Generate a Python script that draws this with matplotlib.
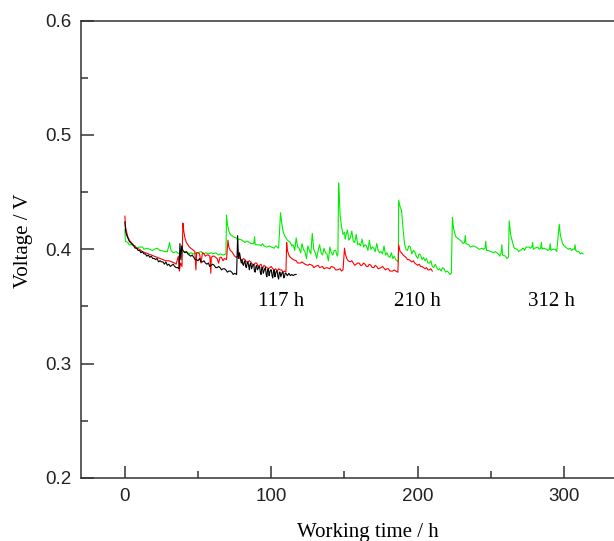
import matplotlib.pyplot as plt

# cell voltage during long-term operation, three runs, (time h, voltage V)
black_pts = [(0, 0.424), (0.4, 0.417), (1, 0.413), (2, 0.410), (3, 0.407), (4.5, 0.405),
             (6, 0.403), (7, 0.401), (8, 0.401), (9, 0.399), (10, 0.399), (11, 0.397),
             (12, 0.398), (13, 0.396), (14, 0.396), (15, 0.394), (16, 0.395), (17, 0.393),
             (18, 0.394), (19, 0.392), (20, 0.392), (21, 0.391), (22, 0.392), (23, 0.389),
             (24, 0.390), (25, 0.389), (26, 0.389), (27, 0.387), (28, 0.389), (29, 0.386),
             (30, 0.387), (31, 0.385), (32, 0.386), (33, 0.387), (34, 0.385), (35, 0.384),
             (36, 0.384), (37, 0.383), (37.6, 0.405), (38.2, 0.391), (38.8, 0.403),
             (39.6, 0.399), (41, 0.397), (42, 0.398), (43, 0.396), (44, 0.395), (45, 0.394),
             (46, 0.395), (47, 0.393), (48, 0.391), (49, 0.391), (50, 0.390), (51, 0.392),
             (52, 0.389), (53, 0.389), (54, 0.390), (55, 0.388), (56, 0.387), (57, 0.388),
             (58, 0.385), (59, 0.386), (60, 0.387), (61, 0.386), (62, 0.384), (63, 0.384),
             (64, 0.385), (65, 0.384), (66, 0.382), (67, 0.383), (68, 0.383), (69, 0.382),
             (70, 0.380), (71, 0.381), (72, 0.381), (73, 0.380), (74, 0.378), (75, 0.379),
             (76.3, 0.378), (77, 0.412), (77.6, 0.392), (78.3, 0.397), (79, 0.392),
             (79.5, 0.388), (80, 0.391), (80.5, 0.387), (81, 0.386), (81.5, 0.389),
             (82, 0.390), (82.5, 0.385), (83, 0.384), (83.5, 0.388), (84, 0.389),
             (84.5, 0.386), (85, 0.382), (85.5, 0.387), (86, 0.388), (86.5, 0.383),
             (87, 0.385), (87.5, 0.386), (88, 0.387), (88.5, 0.381), (89, 0.380),
             (89.5, 0.385), (90, 0.386), (90.5, 0.382), (91, 0.383), (91.5, 0.385),
             (92, 0.385), (92.5, 0.380), (93, 0.378), (93.5, 0.384), (94, 0.384),
             (94.5, 0.379), (95, 0.381), (95.5, 0.383), (96, 0.384), (96.5, 0.378),
             (97, 0.376), (97.5, 0.382), (98, 0.383), (98.5, 0.377), (99, 0.380),
             (99.5, 0.382), (100, 0.382), (100.5, 0.377), (101, 0.375), (101.5, 0.381),
             (102, 0.382), (102.5, 0.376), (103, 0.379), (103.5, 0.381), (104, 0.381),
             (104.5, 0.376), (105, 0.374), (105.5, 0.380), (106, 0.380), (106.5, 0.376),
             (107, 0.378), (107.5, 0.380), (108, 0.380), (108.5, 0.375), (109, 0.376),
             (109.5, 0.379), (110, 0.379), (111, 0.377), (112, 0.379), (113, 0.377),
             (114, 0.378), (115, 0.377), (116, 0.378), (117, 0.378)]

red_pts = [(0, 0.429), (0.4, 0.420), (1, 0.416), (2, 0.411), (3, 0.408), (5, 0.405),
           (8, 0.401), (10, 0.400), (12, 0.398), (14, 0.397), (16, 0.396), (18, 0.395),
           (20, 0.394), (22, 0.393), (24, 0.392), (26, 0.391), (28, 0.390), (30, 0.390),
           (32, 0.389), (34, 0.388), (35, 0.387), (36.5, 0.394), (37.2, 0.381), (38, 0.388),
           (39, 0.385), (39.6, 0.423), (40.2, 0.416), (41, 0.410), (42, 0.406), (43, 0.404),
           (44, 0.402), (45, 0.401), (46, 0.400), (47, 0.399), (47.8, 0.398), (48.5, 0.382),
           (49, 0.397), (50, 0.397), (51, 0.396), (52, 0.388), (53, 0.397), (54, 0.396),
           (55, 0.394), (56, 0.395), (57, 0.395), (58, 0.394), (58.7, 0.379), (59, 0.393),
           (60, 0.394), (61, 0.394), (62, 0.393), (63, 0.392), (64, 0.388), (65, 0.393),
           (66, 0.393), (67, 0.390), (68, 0.392), (69.4, 0.391), (70.4, 0.408), (71, 0.402),
           (72, 0.399), (73, 0.398), (74, 0.396), (75, 0.394), (76, 0.393), (77, 0.394),
           (78, 0.393), (79, 0.391), (80, 0.390), (81, 0.392), (82, 0.391), (83, 0.389),
           (84, 0.389), (85, 0.390), (86, 0.389), (87, 0.387), (88, 0.386), (89, 0.388),
           (90, 0.388), (91, 0.385), (92, 0.386), (93, 0.387), (94, 0.383), (95, 0.386),
           (96, 0.385), (97, 0.384), (98, 0.383), (99, 0.384), (100, 0.385), (101, 0.383),
           (102, 0.382), (103, 0.383), (104, 0.381), (105, 0.383), (106, 0.382),
           (107, 0.382), (108, 0.380), (109, 0.381), (110, 0.380), (110.5, 0.406),
           (111, 0.399), (112, 0.395), (113, 0.393), (114, 0.392), (115, 0.391),
           (117, 0.390), (118, 0.388), (120, 0.388), (121, 0.389), (123, 0.387),
           (125, 0.386), (126, 0.387), (128, 0.386), (129, 0.384), (130, 0.385),
           (132, 0.386), (133, 0.384), (135, 0.385), (136, 0.383), (138, 0.384),
           (140, 0.383), (141, 0.385), (143, 0.384), (144, 0.382), (145, 0.382),
           (147, 0.383), (148, 0.381), (149, 0.382), (150, 0.401), (150.6, 0.396),
           (151.5, 0.392), (152.5, 0.390), (154, 0.389), (155, 0.390), (156, 0.388),
           (157, 0.386), (158, 0.387), (159, 0.388), (160, 0.388), (161, 0.386),
           (162, 0.386), (163, 0.388), (164, 0.387), (165, 0.385), (166, 0.385),
           (167, 0.387), (168, 0.386), (169, 0.384), (170, 0.384), (171, 0.386),
           (172, 0.385), (173, 0.383), (175, 0.384), (176, 0.385), (178, 0.382),
           (179, 0.383), (180, 0.383), (181, 0.381), (183, 0.381), (184, 0.382),
           (185, 0.381), (186.5, 0.380), (187, 0.404), (188, 0.398), (189, 0.397),
           (190, 0.395), (191, 0.394), (192, 0.393), (193, 0.391), (194, 0.391),
           (195, 0.390), (196, 0.389), (197, 0.390), (198, 0.388), (199, 0.387),
           (200, 0.386), (201, 0.387), (202, 0.385), (203, 0.385), (204, 0.384),
           (205, 0.383), (206, 0.384), (207, 0.382), (208, 0.382), (209, 0.383),
           (210, 0.381)]

green_pts = [(0, 0.417), (0.3, 0.407), (2, 0.406), (3, 0.404), (5, 0.404), (7, 0.403),
             (8, 0.401), (10, 0.402), (12, 0.402), (13, 0.400), (15, 0.401), (17, 0.400),
             (19, 0.399), (20, 0.400), (22, 0.401), (24, 0.399), (25, 0.399), (27, 0.398),
             (29, 0.398), (30.5, 0.406), (31.5, 0.399), (33, 0.397), (35, 0.398),
             (37, 0.396), (39, 0.397), (40, 0.398), (42, 0.398), (44, 0.396), (45, 0.397),
             (47, 0.396), (49, 0.397), (50, 0.397), (52, 0.398), (54, 0.396), (55, 0.397),
             (57, 0.396), (59, 0.397), (60, 0.396), (62, 0.397), (64, 0.395), (65, 0.396),
             (67, 0.395), (69, 0.396), (69.4, 0.430), (70, 0.422), (71, 0.416), (72, 0.413),
             (73, 0.412), (74, 0.411), (76, 0.410), (77, 0.408), (78, 0.409), (80, 0.408),
             (82, 0.406), (83, 0.407), (84, 0.407), (85, 0.406), (86, 0.405), (88, 0.405),
             (88.6, 0.411), (89, 0.404), (90, 0.404), (92, 0.404), (93, 0.403), (94, 0.405),
             (95, 0.403), (97, 0.402), (99, 0.403), (100, 0.402), (102, 0.401),
             (103, 0.403), (105, 0.401), (106.3, 0.432), (107, 0.424), (108, 0.416),
             (109, 0.412), (110, 0.410), (111, 0.408), (112, 0.407), (113, 0.406),
             (114, 0.403), (115, 0.404), (116, 0.399), (117, 0.410), (118, 0.402),
             (119, 0.401), (120, 0.397), (121, 0.405), (122, 0.400), (123, 0.398),
             (124, 0.392), (125, 0.403), (126, 0.399), (127, 0.396), (128, 0.414),
             (129, 0.400), (130, 0.397), (131, 0.392), (132, 0.399), (133, 0.404),
             (134, 0.397), (135, 0.395), (136, 0.401), (137, 0.397), (138, 0.396),
             (139, 0.390), (140, 0.402), (141, 0.397), (142, 0.395), (143, 0.399),
             (144, 0.399), (145, 0.394), (145.5, 0.396), (146, 0.458), (146.5, 0.445),
             (147, 0.430), (148, 0.420), (149, 0.413), (150, 0.415), (150.5, 0.409),
             (151, 0.412), (152, 0.417), (153, 0.408), (154, 0.410), (155, 0.416),
             (156, 0.407), (157, 0.406), (158, 0.413), (159, 0.404), (160, 0.405),
             (161, 0.403), (162, 0.409), (163, 0.402), (164, 0.404), (165, 0.403),
             (166, 0.399), (167, 0.408), (168, 0.400), (169, 0.402), (170, 0.401),
             (171, 0.398), (172, 0.405), (173, 0.399), (174, 0.397), (175, 0.398),
             (176, 0.396), (177, 0.403), (178, 0.395), (179, 0.397), (180, 0.394),
             (181, 0.393), (182, 0.397), (183, 0.392), (184, 0.394), (185, 0.391),
             (186, 0.390), (186.8, 0.389), (187, 0.443), (188, 0.437), (189, 0.434),
             (190, 0.418), (191, 0.405), (192, 0.400), (193, 0.399), (194, 0.403),
             (195, 0.402), (196, 0.396), (197, 0.399), (198, 0.398), (199, 0.394),
             (200, 0.392), (201, 0.396), (202, 0.395), (203, 0.391), (204, 0.393),
             (205, 0.390), (206, 0.392), (207, 0.388), (208, 0.388), (209, 0.390),
             (210, 0.385), (211, 0.384), (212, 0.387), (213, 0.384), (214, 0.382),
             (215, 0.383), (216, 0.381), (217, 0.384), (218, 0.383), (219, 0.380),
             (220, 0.381), (221, 0.380), (222, 0.378), (223, 0.379), (223.7, 0.428),
             (224.5, 0.418), (226, 0.411), (228, 0.409), (230, 0.407), (231, 0.405),
             (232, 0.406), (232.5, 0.412), (233, 0.405), (235, 0.404), (236, 0.402),
             (238, 0.403), (240, 0.402), (242, 0.400), (244, 0.401), (245, 0.400),
             (246, 0.401), (246.5, 0.407), (247, 0.399), (248, 0.399), (250, 0.398),
             (252, 0.397), (253, 0.398), (255, 0.396), (256, 0.394), (257, 0.397),
             (257.5, 0.404), (258, 0.395), (260, 0.394), (261, 0.392), (262, 0.393),
             (262.5, 0.425), (263.5, 0.413), (265, 0.405), (266, 0.401), (268, 0.400),
             (269, 0.398), (270, 0.399), (272, 0.401), (273, 0.399), (274, 0.402),
             (276, 0.402), (277, 0.401), (278, 0.402), (278.5, 0.406), (279, 0.400),
             (280, 0.401), (282, 0.402), (283, 0.400), (284, 0.401), (284.5, 0.406),
             (285, 0.400), (286, 0.401), (288, 0.400), (289, 0.399), (290, 0.400),
             (290.5, 0.405), (291, 0.399), (292, 0.400), (294, 0.400), (295, 0.398),
             (296.7, 0.422), (297.5, 0.412), (299, 0.405), (300, 0.403), (301, 0.402),
             (302, 0.401), (303, 0.400), (304, 0.401), (305, 0.399), (306, 0.400),
             (307, 0.400), (307.5, 0.404), (308, 0.399), (309, 0.398), (310, 0.398),
             (311, 0.396), (312, 0.397), (313, 0.396)]

# end-of-run labels
note_t = [106.6, 200.1, 291.7]
note_v = [0.35, 0.35, 0.35]
note_text = ['117 h', '210 h', '312 h']

serif = 'Liberation Serif'
sans = 'Liberation Sans'

fig = plt.figure(figsize=(6.14, 5.41), dpi=100)
ax = fig.add_axes([0.1319, 0.1165, 0.906, 0.8453])

for pts, col in [(green_pts, '#00ee00'), (red_pts, '#ff0000'), (black_pts, 'black')]:
    t, v = zip(*pts)
    ax.plot(t, v, color=col, lw=0.8)

for t, v, s in zip(note_t, note_v, note_text):
    ax.text(t, v, s, ha='center', va='baseline', fontsize=15, family=serif)

ax.set_xlim(-30, 350)
ax.set_ylim(0.2, 0.6)
ax.set_xticks([0, 100, 200, 300])
ax.set_xticks([50, 150, 250], minor=True)
ax.set_yticks([0.2, 0.3, 0.4, 0.5, 0.6])
ax.set_yticks([0.25, 0.35, 0.45, 0.55], minor=True)
ax.set_yticklabels(['0.2', '0.3', '0.4', '0.5', '0.6'])

for sp in ax.spines.values():
    sp.set_color('#333333')
    sp.set_linewidth(1.1)

ax.tick_params(which='both', direction='in', colors='#333333', width=1.1,
               labelsize=13.5, labelcolor='#222222')
ax.tick_params(which='major', length=9)
ax.tick_params(which='minor', length=5)
ax.tick_params(axis='y', pad=7)
ax.tick_params(axis='x', pad=7)
for lab in ax.get_xticklabels() + ax.get_yticklabels():
    lab.set_family(sans)

ax.set_xlabel('Working time / h', fontsize=15, family=serif)
ax.set_ylabel('Voltage / V', fontsize=15, family=serif)
ax.xaxis.set_label_coords(0.516, -0.099)
ax.yaxis.set_label_coords(-0.086, 0.518)

fig.savefig('out.png', dpi=100)
